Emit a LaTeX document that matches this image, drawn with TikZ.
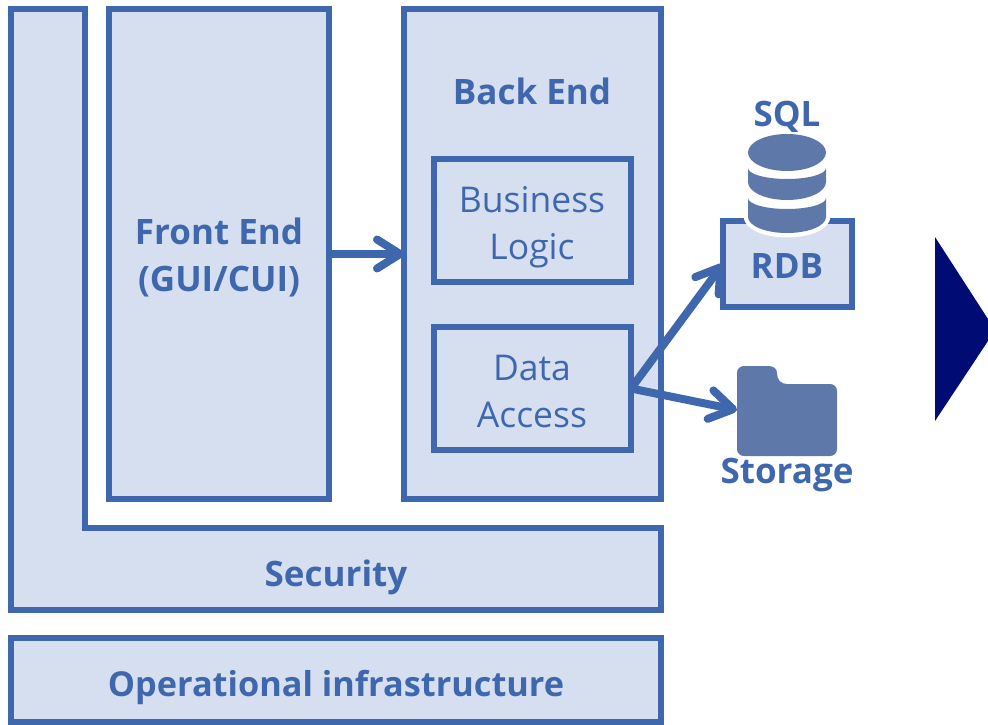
\documentclass[tikz,border=0pt]{standalone}
\usepackage{fontspec}
\setmainfont{Open Sans}
\usetikzlibrary{arrows.meta}
\definecolor{edge}{HTML}{3F67AD}
\definecolor{panel}{HTML}{D6DFEF}
\definecolor{icon}{HTML}{5E78A9}
\definecolor{navy}{HTML}{000B73}
\newcommand{\regfont}{\fontsize{35.5}{47}\selectfont}
\newcommand{\boldfont}{\fontsize{35}{47}\selectfont\bfseries}
\tikzset{
  x=1pt,y=-1pt,
  box/.style={draw=edge,fill=panel,line width=6pt,outer sep=0pt,inner sep=0pt,text=edge,align=center,anchor=north west},
  blab/.style={text=edge,font=\boldfont,align=center,inner sep=0pt},
  conn/.style={draw=edge,line width=8pt,line cap=butt,-{Straight Barb[length=23pt,width=29pt,line width=8pt,round]}},
}
\begin{document}
\begin{tikzpicture}
\useasboundingbox (0,0) rectangle (988,725);
% Security L-shape
\draw[edge,fill=panel,line width=6pt,miter limit=10] (10.5,9) -- (85,9) -- (85,528) -- (661,528) -- (661,610) -- (10.5,610) -- cycle;
\node[blab] (sec) at (336,577) {Security};
% Operational
\node[box,minimum width=650.5pt,minimum height=84pt] (ops) at (10.5,638) {};
\node[blab,font=\fontsize{34.3}{47}\selectfont\bfseries] (opstxt) at (336,687) {Operational infrastructure};
% Front end
\node[box,minimum width=220pt,minimum height=490pt] (fe) at (109,9) {};
\node[blab] (fetxt) at (219,257) {Front End\\(GUI/CUI)};
% Back end
\node[box,minimum width=257pt,minimum height=490pt] (be) at (404,9) {};
\node[blab] (betxt) at (532,91) {Back End};
\node[box,minimum width=197pt,minimum height=123pt] (bl) at (434,159) {};
\node[text=edge,font=\regfont,align=center,inner sep=0pt] (bltxt) at (532,227) {Business\\Logic};
\node[box,minimum width=197pt,minimum height=123pt] (da) at (434,327) {};
\node[text=edge,font=\regfont,align=center,inner sep=0pt] (datxt) at (532,391) {Data\\Access};
% RDB
\node[box,minimum width=129pt,minimum height=86pt] (rdb) at (723,221) {};
\node[blab] (rdbtxt) at (787,266) {RDB};
% cylinder halo and icon
\fill[white,draw=white,line width=9pt,line join=round] (748,152) arc[start angle=180,end angle=360,x radius=39,y radius=18.5] -- (826,216) arc[start angle=0,end angle=180,x radius=39,y radius=17] -- cycle;
\fill[icon] (787,152.5) ellipse[x radius=39,y radius=18.5];
\fill[icon] (748,168) arc[start angle=180,end angle=0,x radius=39,y radius=11] -- (826,182) arc[start angle=0,end angle=180,x radius=39,y radius=18] -- cycle;
\fill[icon] (748,198) arc[start angle=180,end angle=0,x radius=39,y radius=11] -- (826,217) arc[start angle=0,end angle=180,x radius=39,y radius=16] -- cycle;
\node[blab] (sql) at (787,117) {SQL};
% folder
\fill[icon] (737,373) .. controls (737,369) and (740,366) .. (744,366) -- (768,366)
  .. controls (774,366) and (777,369) .. (777,373) .. controls (777,380) and (781,384) .. (787,384)
  -- (830,384) .. controls (834,384) and (837,387) .. (837,391) -- (837,449)
  .. controls (837,453) and (834,456) .. (830,456) -- (744,456) .. controls (740,456) and (737,453) .. (737,449) -- cycle;
\node[blab] (stor) at (787,475) {Storage};
\coordinate (folderw) at (737,410);
% connectors
\draw[conn] (fe.east) -- (be.west);
\draw[conn] (da.east) -- (rdb.west);
\draw[conn] (da.east) -- (folderw);
% chevron
\fill[navy] (935,237) -- (988,319) -- (988,341) -- (935,421) -- cycle;
\end{tikzpicture}
\end{document}
